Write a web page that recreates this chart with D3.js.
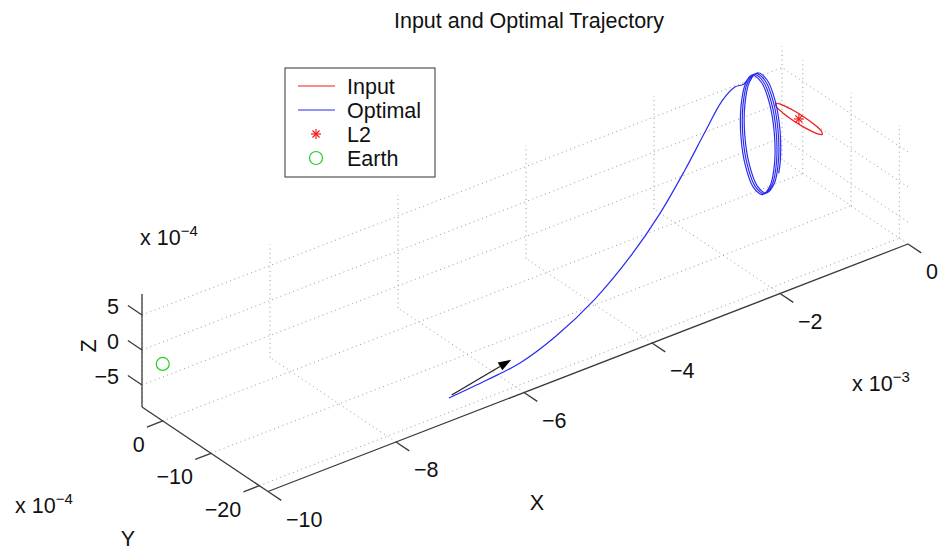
<!DOCTYPE html>
<html>
<head>
<meta charset="utf-8">
<script src="https://cdn.jsdelivr.net/npm/d3@7"></script>
<style>
  body { margin: 0; background: #fff; }
  svg { display: block; }
  text { font-family: "Liberation Sans", Arial, Helvetica, sans-serif; fill: #111; }
</style>
</head>
<body>
<svg id="chart" width="938" height="552"></svg>
<script>
// Axis limits: x in units of 1e-3, y and z in units of 1e-4
const xLimits = [-10, 0];
const yLimits = [-21.8, 4.3];
const zLimits = [-8.14, 8.0];
const xTicks = [-10, -8, -6, -4, -2, 0];
const yTicks = [-20, -10, 0];
const zTicks = [-5, 0, 5];

// Optimal trajectory: transfer arc followed by the loops around L2
const optimalX = [-7.173, -6.489, -5.867, -5.170, -4.348, -3.575, -2.866, -2.248, -1.739, -1.308, -1.014, -0.823,
  -0.720, -0.618, -0.542, -0.513, -0.537, -0.608, -0.705, -0.803, -0.873, -0.898, -0.868, -0.793,
  -0.690, -0.588, -0.512, -0.483, -0.507, -0.578, -0.675, -0.773, -0.843, -0.868, -0.838, -0.763,
  -0.660, -0.558, -0.482, -0.453, -0.477, -0.548, -0.645, -0.743, -0.813, -0.838, -0.808, -0.733,
  -0.630, -0.528, -0.452, -0.423, -0.447, -0.478];
const optimalY = [-21.8, -20.6, -19.2, -17.2, -14.6, -11.6, -8.4, -5.4, -2.8, -0.6, 0.6, 1.32,
  1.00, 0.42, -0.28, -0.90, -1.28, -1.32, -1.00, -0.42, 0.28, 0.90, 1.28, 1.32,
  1.00, 0.42, -0.28, -0.90, -1.28, -1.32, -1.00, -0.42, 0.28, 0.90, 1.28, 1.32,
  1.00, 0.42, -0.28, -0.90, -1.28, -1.32, -1.00, -0.42, 0.28, 0.90, 1.28, 1.32,
  1.00, 0.42, -0.28, -0.90, -1.28, -1.34];
const optimalZ = [-4.79, -5.19, -5.60, -5.27, -3.96, -2.07, 0.14, 2.79, 5.21, 7.10, 7.51, 6.91,
  8.00, 6.91, 3.95, -0.10, -4.15, -7.11, -8.20, -7.11, -4.15, -0.10, 3.95, 6.91,
  8.00, 6.91, 3.95, -0.10, -4.15, -7.11, -8.20, -7.11, -4.15, -0.10, 3.95, 6.91,
  8.00, 6.91, 3.95, -0.10, -4.15, -7.11, -8.20, -7.11, -4.15, -0.10, 3.95, 6.91,
  8.00, 6.91, 3.95, -0.10, -4.15, -5.83];

// Input orbit around L2 (closed)
const inputX = [-0.14, -0.129, -0.10, -0.06, -0.02, 0.009, 0.02, 0.009, -0.02, -0.06, -0.10, -0.129];
const inputY = [0, 2.4, 4.16, 4.8, 4.16, 2.4, 0, -2.4, -4.16, -4.8, -4.16, -2.4];
const inputZ = [-0.15, -0.15, -0.15, -0.15, -0.15, -0.15, -0.15, -0.15, -0.15, -0.15, -0.15, -0.15];

const l2Point = [-0.06, 0, -0.15];
const earthPoint = [-10, 0, 0];
const arrowTail = [-7.13, -21.8, -4.51];
const arrowTip = [-6.20, -21.8, -2.77];

const legendLabels = ["Input", "Optimal", "L2", "Earth"];
const colors = { input: "#f01c1c", optimal: "#2a2af2", earth: "#22d022", axis: "#3a3a3a", grid: "#9a9a9a" };

const svg = d3.select("#chart");

// Orthographic projection of the axes box: unit scales along each data axis
const boxCorner = [142, 407];          // screen point of (xMin, yMax, zMin)
const xEdge = [640, -247.5];           // xMin -> xMax
const yEdge = [126, 84.5];             // yMax -> yMin
const zEdge = [0, -113];               // zMin -> zMax
const fx = d3.scaleLinear().domain(xLimits).range([0, 1]);
const fy = d3.scaleLinear().domain([yLimits[1], yLimits[0]]).range([0, 1]);
const fz = d3.scaleLinear().domain(zLimits).range([0, 1]);
function project(p) {
  const u = fx(p[0]), v = fy(p[1]), w = fz(p[2]);
  return [boxCorner[0] + u * xEdge[0] + v * yEdge[0] + w * zEdge[0],
          boxCorner[1] + u * xEdge[1] + v * yEdge[1] + w * zEdge[1]];
}
const [xMin, xMax] = xLimits, [yMin, yMax] = yLimits, [zMin, zMax] = zLimits;

// Grid on the three back planes
const gridSegs = [];
xTicks.forEach(x => {
  gridSegs.push([[x, yMin, zMin], [x, yMax, zMin]]);
  gridSegs.push([[x, yMax, zMin], [x, yMax, zMax]]);
});
yTicks.forEach(y => {
  gridSegs.push([[xMin, y, zMin], [xMax, y, zMin]]);
  gridSegs.push([[xMax, y, zMin], [xMax, y, zMax]]);
});
zTicks.forEach(z => {
  gridSegs.push([[xMin, yMax, z], [xMax, yMax, z]]);
  gridSegs.push([[xMax, yMin, z], [xMax, yMax, z]]);
});
svg.append("g").selectAll("line").data(gridSegs).join("line")
  .attr("x1", d => project(d[0])[0]).attr("y1", d => project(d[0])[1])
  .attr("x2", d => project(d[1])[0]).attr("y2", d => project(d[1])[1])
  .attr("stroke", colors.grid).attr("stroke-width", 1)
  .attr("stroke-dasharray", "1,3.5");

// Axis lines
const axisSegs = [
  [[xMin, yMax, zMin], [xMin, yMax, zMax]],
  [[xMin, yMax, zMin], [xMin, yMin, zMin]],
  [[xMin, yMin, zMin], [xMax, yMin, zMin]]
];
const axes = svg.append("g");
axes.selectAll("line.axis").data(axisSegs).join("line").attr("class", "axis")
  .attr("x1", d => project(d[0])[0]).attr("y1", d => project(d[0])[1])
  .attr("x2", d => project(d[1])[0]).attr("y2", d => project(d[1])[1])
  .attr("stroke", colors.axis).attr("stroke-width", 1.3);

function unit(v, len) { const n = Math.hypot(v[0], v[1]); return [v[0] / n * len, v[1] / n * len]; }
const xTickDir = unit(yEdge, 16);
const yTickDir = unit([-xEdge[0], -xEdge[1]], 17);
const zTickDir = unit([-yEdge[0], -yEdge[1]], 17);
const fmt = v => v < 0 ? "\u2212" + Math.abs(v) : String(v);

function tickGroup(ticks, toPoint, dir, lab) {
  const g = axes.append("g");
  ticks.forEach(t => {
    const p = project(toPoint(t));
    g.append("line").attr("x1", p[0]).attr("y1", p[1])
      .attr("x2", p[0] + dir[0]).attr("y2", p[1] + dir[1])
      .attr("stroke", colors.axis).attr("stroke-width", 1.3);
    g.append("text").attr("x", p[0] + lab.dx).attr("y", p[1] + lab.dy)
      .attr("text-anchor", lab.anchor).attr("font-size", 21.5).text(fmt(t));
  });
}
tickGroup(xTicks, t => [t, yMin, zMin], xTickDir, { dx: 18, dy: 35, anchor: "start" });
tickGroup(yTicks, t => [xMin, t, zMin], yTickDir, { dx: -18, dy: 31, anchor: "end" });
tickGroup(zTicks, t => [xMin, yMax, t], zTickDir, { dx: -23, dy: -1.5, anchor: "end" });

// Axis labels and exponent notes
const labels = svg.append("g").attr("font-size", 21.5);
labels.append("text").attr("x", 537).attr("y", 510).attr("text-anchor", "middle").text("X");
labels.append("text").attr("x", 128).attr("y", 546).attr("text-anchor", "middle").text("Y");
labels.append("text").attr("transform", "translate(96,346) rotate(-90)")
  .attr("text-anchor", "middle").text("Z");
function exponentNote(x, y, exp) {
  const t = labels.append("text").attr("x", x).attr("y", y);
  t.append("tspan").text("x 10");
  t.append("tspan").attr("dy", -9).attr("font-size", 15).text("\u2212" + exp);
}
exponentNote(140, 245, 4);
exponentNote(15, 513, 4);
exponentNote(852, 391, 3);

// Title
svg.append("text").attr("x", 529).attr("y", 28).attr("text-anchor", "middle")
  .attr("font-size", 21.5).text("Input and Optimal Trajectory");

// Trajectories
const optimalPts = optimalX.map((x, i) => project([x, optimalY[i], optimalZ[i]]));
const inputPts = inputX.map((x, i) => project([x, inputY[i], inputZ[i]]));
svg.append("path").attr("d", d3.line().curve(d3.curveCatmullRomClosed.alpha(0.5))(inputPts))
  .attr("fill", "none").attr("stroke", colors.input).attr("stroke-width", 1.3);
svg.append("path").attr("d", d3.line().curve(d3.curveCatmullRom.alpha(0.5))(optimalPts))
  .attr("fill", "none").attr("stroke", colors.optimal).attr("stroke-width", 1.2);

// Markers
function asterisk(g, cx, cy, r, color) {
  const d = r * Math.SQRT1_2;
  [[-r, 0, r, 0], [0, -r, 0, r], [-d, -d, d, d], [-d, d, d, -d]].forEach(s =>
    g.append("line").attr("x1", cx + s[0]).attr("y1", cy + s[1])
      .attr("x2", cx + s[2]).attr("y2", cy + s[3])
      .attr("stroke", color).attr("stroke-width", 1.2));
}
const l2s = project(l2Point);
asterisk(svg.append("g"), l2s[0], l2s[1], 5, colors.input);
const es = project(earthPoint);
svg.append("circle").attr("cx", es[0]).attr("cy", es[1]).attr("r", 6.5)
  .attr("fill", "none").attr("stroke", colors.earth).attr("stroke-width", 1.2);

// Direction arrow at the start of the transfer
const a0 = project(arrowTail), a1 = project(arrowTip);
const ang = Math.atan2(a1[1] - a0[1], a1[0] - a0[0]);
const headLen = 13, headHalf = 4.5;
const base = [a1[0] - headLen * Math.cos(ang), a1[1] - headLen * Math.sin(ang)];
svg.append("line").attr("x1", a0[0]).attr("y1", a0[1]).attr("x2", base[0]).attr("y2", base[1])
  .attr("stroke", "#222").attr("stroke-width", 1.3);
svg.append("path")
  .attr("d", `M${a1[0]},${a1[1]}L${base[0] - headHalf * Math.sin(ang)},${base[1] + headHalf * Math.cos(ang)}L${base[0] + headHalf * Math.sin(ang)},${base[1] - headHalf * Math.cos(ang)}Z`)
  .attr("fill", "#000");

// Legend
const legend = svg.append("g").attr("transform", "translate(285,68)");
legend.append("rect").attr("width", 150).attr("height", 109)
  .attr("fill", "#fff").attr("stroke", "#333").attr("stroke-width", 1);
legendLabels.forEach((name, i) => {
  const cy = 18 + i * 24;
  const row = legend.append("g");
  if (i === 0 || i === 1) {
    row.append("line").attr("x1", 13).attr("x2", 50).attr("y1", cy).attr("y2", cy)
      .attr("stroke", i === 0 ? colors.input : colors.optimal).attr("stroke-width", 1.2);
  } else if (i === 2) {
    asterisk(row, 31, cy, 5, colors.input);
  } else {
    row.append("circle").attr("cx", 31).attr("cy", cy).attr("r", 6.5)
      .attr("fill", "none").attr("stroke", colors.earth).attr("stroke-width", 1.2);
  }
  row.append("text").attr("x", 62).attr("y", cy + 7.7).attr("font-size", 21.5).text(name);
});
</script>
</body>
</html>
